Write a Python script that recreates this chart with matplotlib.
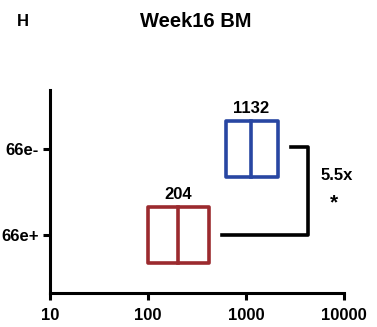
import matplotlib
matplotlib.use("Agg")
import matplotlib.pyplot as plt
from matplotlib.patches import Rectangle

plt.rcParams["font.family"] = ["Liberation Sans", "DejaVu Sans"]
plt.rcParams["font.weight"] = "bold"

# data (group labels are cropped at the left edge there)
groups = ["66e+", "66e-"]
q1 = [100, 620]
medians = [204, 1132]
q3 = [420, 2100]
colors = ["#9b2a2e", "#2846a2"]
fold_label = "5.5x"
sig_label = "*"
bracket_x = [565, 4300, 2880]  # start (lower), right edge, end (upper)

box_h = 0.65
lw = 2.6

fig = plt.figure(figsize=(3.77, 3.27), dpi=100)
ax = fig.add_axes([0.1326, 0.104, 0.78, 0.621])

for i, g in enumerate(groups):
    ax.add_patch(Rectangle((q1[i], i - box_h / 2), q3[i] - q1[i], box_h,
                           fill=False, edgecolor=colors[i], linewidth=lw,
                           joinstyle="round"))
    ax.plot([medians[i], medians[i]], [i - box_h / 2, i + box_h / 2],
            color=colors[i], linewidth=lw)
    ax.text(medians[i], i + box_h / 2 + 0.14, str(medians[i]), ha="center",
            va="center", fontsize=12, fontweight="bold")

# significance bracket
ax.plot([bracket_x[0], bracket_x[1], bracket_x[1], bracket_x[2]], [0, 0, 1.02, 1.02],
        color="black", linewidth=lw, solid_joinstyle="round")
ax.text(8500, 0.686, fold_label, ha="center", va="center", fontsize=12, fontweight="bold")
ax.text(7800, 0.37, sig_label, ha="center", va="center", fontsize=15, fontweight="bold")

ax.set_xscale("log")
ax.set_xlim(10, 10000)
ax.set_ylim(-0.674, 1.686)
ax.set_xticks([10, 100, 1000, 10000])
ax.set_xticklabels(["10", "100", "1000", "10000"])
ax.xaxis.set_minor_locator(matplotlib.ticker.NullLocator())
ax.set_yticks([0, 1])
ax.set_yticklabels(groups)

for s in ["top", "right"]:
    ax.spines[s].set_visible(False)
for s in ["left", "bottom"]:
    ax.spines[s].set_linewidth(2.2)
ax.tick_params(width=2.2, length=5, labelsize=12)
ax.tick_params(axis="x", pad=6)
ax.tick_params(axis="y", pad=3)
for lab in ax.get_xticklabels() + ax.get_yticklabels():
    lab.set_fontweight("bold")

fig.text(0.518, 0.935, "Week16 BM", ha="center", va="center", fontsize=14.5, fontweight="bold")
fig.text(0.06, 0.935, "H", ha="center", va="center", fontsize=12, fontweight="bold")

fig.savefig("out.png", dpi=100)
